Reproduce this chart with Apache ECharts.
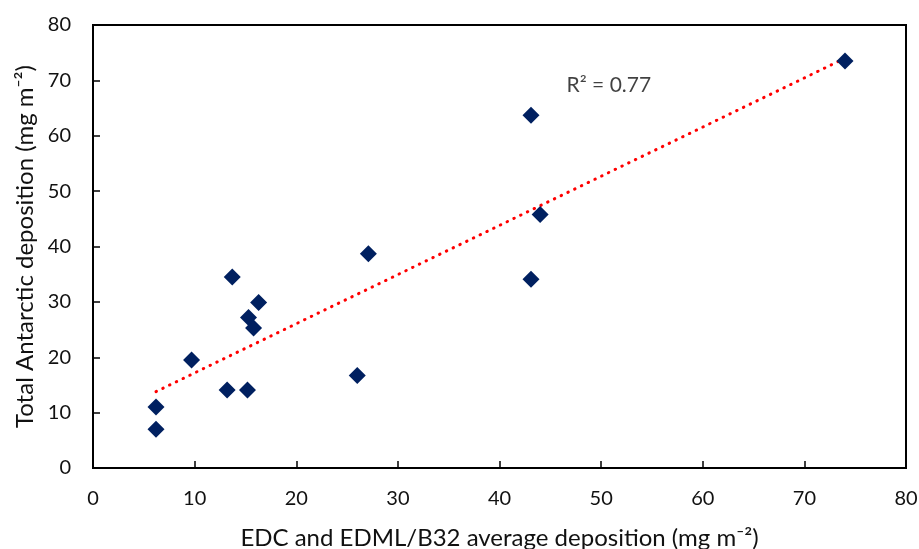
<!DOCTYPE html>
<html>
<head>
<meta charset="utf-8">
<script src="https://cdn.jsdelivr.net/npm/echarts@6/dist/echarts.min.js"></script>
<style>
  html, body { margin: 0; padding: 0; background: #fff; }
  #chart { width: 919px; height: 549px; }
</style>
</head>
<body>
<div id="chart"></div>
<script>
// EDC and EDML/B32 average deposition vs total Antarctic deposition
const avgDeposition = [74.0, 43.1, 44.0, 43.1, 27.1, 26.0, 13.7, 16.3, 15.3, 15.8, 9.7, 13.2, 15.2, 6.2, 6.2];
const totalDeposition = [73.5, 63.7, 45.8, 34.1, 38.7, 16.7, 34.5, 29.9, 27.2, 25.3, 19.5, 14.1, 14.1, 11.0, 7.0];

// linear trendline end points
const trendX = [6.2, 74.0];
const trendY = [13.8, 74.0];
const r2Label = 'R² = 0.77';
const r2Pos = [46.6, 69.1];

const font = 'Lato, "Noto Sans", sans-serif';

const chart = echarts.init(document.getElementById('chart'));

const points = avgDeposition.map((x, i) => [x, totalDeposition[i]]);
const trend = trendX.map((x, i) => [x, trendY[i]]);

const axisCommon = {
  type: 'value',
  min: 0,
  max: 80,
  interval: 10,
  splitLine: { show: false },
  axisLine: { show: true, onZero: false, lineStyle: { color: '#000', width: 2 } },
  axisTick: { show: true, inside: true, length: 7, lineStyle: { color: '#000', width: 1.5 } },
  axisLabel: { color: '#111', fontSize: 20, fontFamily: font }
};

chart.setOption({
  animation: false,
  grid: {
    left: 93, right: 13, top: 25, bottom: 81,
    outerBoundsMode: 'none',
    show: true, borderColor: '#000', borderWidth: 2
  },
  xAxis: {
    ...axisCommon,
    axisLabel: { ...axisCommon.axisLabel, margin: 21 },
    name: 'EDC and EDML/B32 average deposition (mg m⁻²)',
    nameLocation: 'middle',
    nameGap: 58,
    nameTextStyle: { color: '#111', fontSize: 24, fontFamily: font }
  },
  yAxis: {
    ...axisCommon,
    axisLabel: { ...axisCommon.axisLabel, margin: 22 },
    name: 'Total Antarctic deposition (mg m⁻²)',
    nameLocation: 'middle',
    nameGap: 53,
    nameTextStyle: { color: '#111', fontSize: 24, fontFamily: font }
  },
  series: [
    {
      type: 'line',
      data: trend,
      symbol: 'none',
      z: 1,
      lineStyle: { color: '#ff0000', width: 3, type: [0.5, 7], cap: 'round' }
    },
    {
      type: 'scatter',
      data: points,
      symbol: 'diamond',
      symbolSize: 17,
      z: 2,
      itemStyle: { color: '#002060', opacity: 1 }
    },
    {
      type: 'scatter',
      data: [r2Pos],
      symbolSize: 0,
      silent: true,
      label: {
        show: true,
        position: 'right',
        distance: 0,
        formatter: r2Label,
        color: '#111',
        fontSize: 21,
        fontFamily: font
      }
    }
  ]
});
</script>
</body>
</html>
